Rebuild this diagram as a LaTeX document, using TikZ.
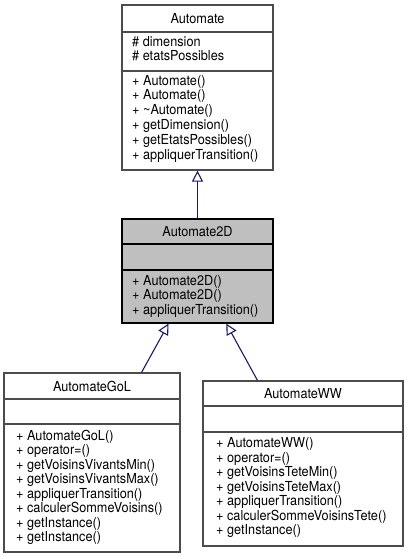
\documentclass[tikz,border=0pt]{standalone}
\usepackage{fontspec}
\setmainfont{TeX Gyre Heros}[FakeStretch=0.92]
\usetikzlibrary{arrows.meta}
\definecolor{edgeblue}{HTML}{191970}
\definecolor{mainfill}{HTML}{BFBFBF}
\begin{document}
\begin{tikzpicture}[x=1pt,y=-1pt]
  \tikzstyle{cls}=[draw=black!70, line width=1.2pt, fill=white, inner sep=0pt]
  \tikzstyle{sep}=[draw=black!70, line width=1.2pt]
  \tikzstyle{title}=[font=\fontsize{13.8}{15}\selectfont, inner sep=0pt]
  \tikzstyle{member}=[anchor=west, font=\fontsize{13.8}{15}\selectfont, inner sep=0pt,
    text height=10pt, text depth=3pt]
  \tikzstyle{inherit}=[edgeblue, line width=1.1pt,
    -{Triangle[open, width=11pt, length=11pt, fill=white]}]

  \useasboundingbox (0,0) rectangle (408,559);

  % Automate
  \node[cls, minimum width=151pt, minimum height=165pt] (automate) at (197.5,87.5) {};
  \draw[sep] (automate.west |- 0,32) -- (automate.east |- 0,32);
  \draw[sep] (automate.west |- 0,71) -- (automate.east |- 0,71);
  \node[title] (automate-title) at (197.5,18.5) {Automate};
  \node[member] (automate-a0) at (132,42.7) {\# dimension};
  \node[member] (automate-a1) at (132,57.3) {\# etatsPossibles};
  \foreach \m [count=\i from 0] in {Automate(), Automate(), {\textasciitilde}Automate(),
      getDimension(), getEtatsPossibles(), appliquerTransition()}
    \node[member] (automate-m\i) at (132,{81.6+14.8*\i}) {+ \m};

  % Automate2D
  \node[cls, fill=mainfill, draw=black, minimum width=151pt, minimum height=104pt] (automate2d) at (197.5,271) {};
  \draw[sep, draw=black] (automate2d.west |- 0,244) -- (automate2d.east |- 0,244);
  \draw[sep, draw=black] (automate2d.west |- 0,270) -- (automate2d.east |- 0,270);
  \node[title] (automate2d-title) at (197.5,231.5) {Automate2D};
  \foreach \m [count=\i from 0] in {Automate2D(), Automate2D(), appliquerTransition()}
    \node[member] (automate2d-m\i) at (132,{281.7+14.5*\i}) {+ \m};

  % AutomateGoL
  \node[cls, minimum width=176pt, minimum height=179pt] (gol) at (92,462.5) {};
  \draw[sep] (gol.west |- 0,399) -- (gol.east |- 0,399);
  \draw[sep] (gol.west |- 0,424) -- (gol.east |- 0,424);
  \node[title] (gol-title) at (92,386) {AutomateGoL};
  \foreach \m [count=\i from 0] in {AutomateGoL(), operator=(), getVoisinsVivantsMin(),
      getVoisinsVivantsMax(), appliquerTransition(), calculerSommeVoisins(),
      getInstance(), getInstance()}
    \node[member] (gol-m\i) at (16,{436.8+14.5*\i}) {+ \m};

  % AutomateWW
  \node[cls, minimum width=200pt, minimum height=165pt] (ww) at (303,463.5) {};
  \draw[sep] (ww.west |- 0,406) -- (ww.east |- 0,406);
  \draw[sep] (ww.west |- 0,432) -- (ww.east |- 0,432);
  \node[title] (ww-title) at (303,393.5) {AutomateWW};
  \foreach \m [count=\i from 0] in {AutomateWW(), operator=(), getVoisinsTeteMin(),
      getVoisinsTeteMax(), appliquerTransition(), calculerSommeVoisinsTete(), getInstance()}
    \node[member] (ww-m\i) at (216,{444+14.5*\i}) {+ \m};

  % heritage
  \draw[inherit] (automate2d) -- (automate);
  \draw[inherit] (gol) -- (automate2d);
  \draw[inherit] (ww) -- (automate2d);
\end{tikzpicture}
\end{document}
